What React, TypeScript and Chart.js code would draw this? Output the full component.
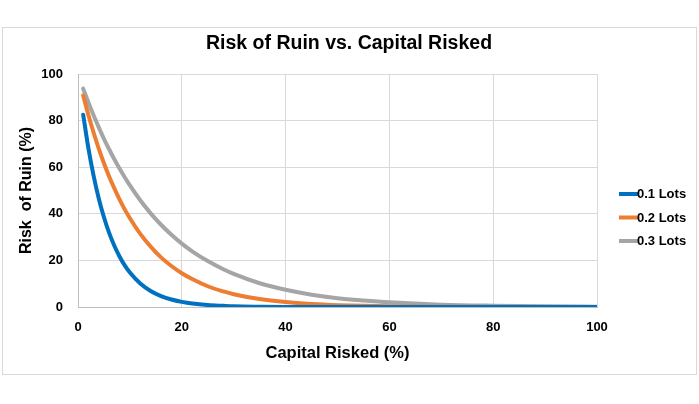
import React, { useEffect, useRef } from "react";
import { Chart, registerables } from "chart.js";

Chart.register(...registerables);

const capitalRisked = [1, 2, 3, 4, 5, 6, 7, 8, 9, 10, 12, 14, 16, 18, 20, 22, 25, 28, 30, 35, 40, 45, 50, 55, 60, 70, 80, 90, 100];

const lots01 = [82.5, 68.2, 56.4, 46.6, 38.5, 31.8, 26.3, 21.7, 17.9, 14.8, 10.1, 6.9, 4.7, 3.2, 2.2, 1.5, 0.85, 0.5, 0.3, 0.13, 0.05, 0.02, 0.01, 0, 0, 0, 0, 0, 0];
const lots02 = [90.8, 82.4, 74.9, 68.0, 61.7, 56.0, 50.9, 46.2, 41.9, 38.1, 31.4, 25.9, 21.3, 17.6, 14.5, 12.0, 8.9, 6.7, 5.5, 3.4, 2.1, 1.3, 0.8, 0.5, 0.3, 0.1, 0.05, 0.02, 0.01];
const lots03 = [93.7, 87.8, 82.3, 77.1, 72.2, 67.7, 63.4, 59.4, 55.7, 52.2, 45.8, 40.2, 35.3, 31.0, 27.2, 23.9, 19.7, 16.2, 14.2, 10.2, 7.4, 5.3, 3.8, 2.8, 2.0, 1.0, 0.55, 0.3, 0.15];

const chartTitle = "Risk of Ruin vs. Capital Risked";
const seriesLabels = ["0.1 Lots", "0.2 Lots", "0.3 Lots"];
const seriesColors = ["#0070C0", "#ED7D31", "#A5A5A5"];
const xTicks = [0, 20, 40, 60, 80, 100];
const yTicks = [0, 20, 40, 60, 80, 100];

const toPoints = (ys: number[]) => capitalRisked.map((x, i) => ({ x, y: ys[i] }));

const frameLegendPlugin = {
  id: "frameLegend",
  beforeDraw(chart: any) {
    const ctx = chart.ctx;
    ctx.save();
    ctx.fillStyle = "#ffffff";
    ctx.fillRect(0, 0, chart.width, chart.height);
    ctx.strokeStyle = "#d9d9d9";
    ctx.lineWidth = 1;
    ctx.strokeRect(2.5, 27.5, 694, 347);
    ctx.fillStyle = "#000000";
    ctx.font = "bold 19.5px 'Liberation Sans', Arial, sans-serif";
    ctx.textAlign = "center";
    ctx.textBaseline = "middle";
    ctx.fillText(chartTitle, 349, 44);
    ctx.restore();
  },
  afterDraw(chart: any) {
    const ctx = chart.ctx;
    ctx.save();
    chart.data.datasets.forEach((ds: any, i: number) => {
      const y = 194 + i * 23.5;
      ctx.strokeStyle = ds.borderColor;
      ctx.lineWidth = 4;
      ctx.lineCap = "butt";
      ctx.beginPath();
      ctx.moveTo(619, y);
      ctx.lineTo(638, y);
      ctx.stroke();
      ctx.fillStyle = "#000000";
      ctx.font = "bold 13px 'Liberation Sans', Arial, sans-serif";
      ctx.textBaseline = "middle";
      ctx.textAlign = "left";
      ctx.fillText(ds.label, 637, y + 0.5);
    });
    ctx.restore();
  },
};

export default function App() {
  const canvasRef = useRef<HTMLCanvasElement | null>(null);

  useEffect(() => {
    document.body.style.margin = "0";
    const canvas = canvasRef.current;
    if (!canvas) return;
    const datasets = [lots01, lots02, lots03].map((ys, i) => ({
      label: seriesLabels[i],
      data: toPoints(ys),
      borderColor: seriesColors[i],
      backgroundColor: seriesColors[i],
      borderWidth: 4,
      pointRadius: 0,
      pointHoverRadius: 0,
      tension: 0.4,
      cubicInterpolationMode: "monotone" as const,
      borderCapStyle: "round" as const,
      fill: false,
    }));
    const chart = new Chart(canvas, {
      type: "line",
      data: { datasets },
      options: {
        responsive: false,
        animation: false,
        devicePixelRatio: 1,
        layout: { padding: { left: 0, right: 102, top: 74, bottom: 0 } },
        plugins: {
          legend: { display: false },
          tooltip: { enabled: false },
          title: { display: false },
        },
        scales: {
          x: {
            type: "linear",
            min: 0,
            max: 100,
            afterBuildTicks: (scale: any) => {
              scale.ticks = xTicks.map((v) => ({ value: v }));
            },
            afterFit: (scale: any) => {
              scale.height = 97;
            },
            grid: { color: "#d9d9d9", drawTicks: false, lineWidth: 1 },
            border: { color: "#bfbfbf", width: 1 },
            ticks: {
              padding: 13,
              color: "#000000",
              maxRotation: 0,
              font: { family: "'Liberation Sans', Arial, sans-serif", size: 13, weight: "bold" },
            },
            title: {
              display: true,
              text: "Capital Risked (%)",
              color: "#000000",
              font: { family: "'Liberation Sans', Arial, sans-serif", size: 16.5, weight: "bold", lineHeight: 1.2 },
              padding: { top: 0, bottom: 41 },
            },
          },
          y: {
            type: "linear",
            min: 0,
            max: 100,
            afterBuildTicks: (scale: any) => {
              scale.ticks = yTicks.map((v) => ({ value: v }));
            },
            afterFit: (scale: any) => {
              scale.width = 78;
            },
            grid: { color: "#d9d9d9", drawTicks: false, lineWidth: 1 },
            border: { color: "#bfbfbf", width: 1 },
            ticks: {
              padding: 15,
              color: "#000000",
              font: { family: "'Liberation Sans', Arial, sans-serif", size: 13, weight: "bold" },
            },
            title: {
              display: true,
              text: "Risk  of Ruin (%)",
              color: "#000000",
              font: { family: "'Liberation Sans', Arial, sans-serif", size: 16, weight: "bold", lineHeight: 1.2 },
              padding: { top: 17, bottom: 0 },
            },
          },
        },
      },
      plugins: [frameLegendPlugin],
    });
    return () => chart.destroy();
  }, []);

  return (
    <div style={{ width: 699, height: 404, position: "relative" }}>
      <canvas ref={canvasRef} width={699} height={404} style={{ display: "block", width: 699, height: 404 }} />
    </div>
  );
}
